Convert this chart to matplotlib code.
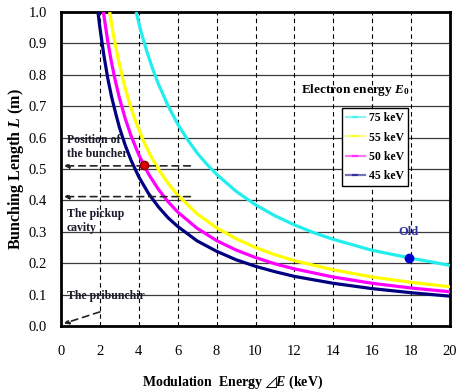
import matplotlib
matplotlib.use("Agg")
import matplotlib.pyplot as plt
from matplotlib.lines import Line2D

plt.rcParams['font.family'] = ['Liberation Serif', 'DejaVu Serif', 'DejaVu Sans']
plt.rcParams['mathtext.fontset'] = 'custom'
plt.rcParams['mathtext.rm'] = 'Liberation Serif:bold'
plt.rcParams['mathtext.it'] = 'Liberation Serif:italic:bold'
plt.rcParams['mathtext.bf'] = 'Liberation Serif:bold'
plt.rcParams['mathtext.fallback'] = 'stix'

# Data
x45 = [1.9, 2.0, 2.2, 2.4, 2.6, 2.8, 3.0, 3.3, 3.6, 4.0, 4.5, 5.0, 5.5, 6.0, 7.0, 8.0, 9.0, 10.0, 11.0, 12.0, 14.0, 16.0, 18.0, 20.0]
y45 = [1.0, 0.95, 0.864, 0.79, 0.73, 0.68, 0.633, 0.576, 0.528, 0.475, 0.422, 0.38, 0.345, 0.317, 0.271, 0.238, 0.211, 0.19, 0.173, 0.158, 0.136, 0.119, 0.106, 0.095]
x50 = [2.18, 2.4, 2.6, 2.8, 3.0, 3.3, 3.6, 4.0, 4.5, 5.0, 5.5, 6.0, 7.0, 8.0, 9.0, 10.0, 11.0, 12.0, 14.0, 16.0, 18.0, 20.0]
y50 = [1.0, 0.908, 0.838, 0.779, 0.727, 0.661, 0.606, 0.545, 0.484, 0.436, 0.396, 0.363, 0.311, 0.272, 0.242, 0.218, 0.198, 0.182, 0.156, 0.136, 0.121, 0.109]
x55 = [2.5, 2.7, 2.9, 3.2, 3.5, 3.8, 4.2, 4.6, 5.0, 5.5, 6.0, 7.0, 8.0, 9.0, 10.0, 11.0, 12.0, 14.0, 16.0, 18.0, 20.0]
y55 = [1.0, 0.926, 0.862, 0.781, 0.714, 0.658, 0.595, 0.543, 0.5, 0.455, 0.417, 0.357, 0.3125, 0.278, 0.25, 0.227, 0.208, 0.179, 0.156, 0.139, 0.125]
x75 = [3.86, 4.1, 4.4, 4.7, 5.0, 5.5, 6.0, 6.5, 7.0, 7.5, 8.0, 9.0, 10.0, 11.0, 12.0, 13.0, 14.0, 16.0, 18.0, 20.0]
y75 = [1.0, 0.941, 0.877, 0.821, 0.772, 0.702, 0.643, 0.594, 0.551, 0.515, 0.483, 0.429, 0.386, 0.351, 0.322, 0.297, 0.276, 0.241, 0.216, 0.193]

series_labels = ['75 keV', '55 keV', '50 keV', '45 keV']
series_colors = ['#22EEEE', '#FFFF00', '#FF00FF', '#000080']
buncher_pt = (4.28, 0.513)
old_pt = (17.9, 0.217)
buncher_L = 0.51
pickup_L = 0.412
xticks = [0, 2, 4, 6, 8, 10, 12, 14, 16, 18, 20]
yticks = [0.0, 0.1, 0.2, 0.3, 0.4, 0.5, 0.6, 0.7, 0.8, 0.9, 1.0]

fig = plt.figure(figsize=(4.57, 3.92), dpi=100)
ax = fig.add_axes([61/457, 66/392, 389/457, 314/392])

ax.set_xlim(0, 20)
ax.set_ylim(0, 1.0)
ax.set_xticks(xticks)
ax.set_yticks(yticks)
ax.set_yticklabels([f"{v:.1f}" for v in yticks])
ax.tick_params(axis='both', length=0, labelsize=10.5)
ax.tick_params(axis='y', pad=10)
ax.tick_params(axis='x', pad=14)

for v in yticks[1:-1]:
    ax.axhline(v, color='#3a3a3a', lw=0.9, zorder=1)
for v in xticks[1:-1]:
    ax.axvline(v, color='black', lw=0.8, ls=(0, (4, 3)), zorder=1)

for s in ax.spines.values():
    s.set_linewidth(2.0)

lw = 2.3
for xs, ys, c, z in [(x75, y75, series_colors[0], 3), (x55, y55, series_colors[1], 3),
                     (x50, y50, series_colors[2], 3), (x45, y45, series_colors[3], 4)]:
    ax.plot(xs, ys, color=c, lw=lw, zorder=z, solid_joinstyle='round', solid_capstyle='butt')

ax.plot([buncher_pt[0]], [buncher_pt[1]], 'o', ms=6, color='#DD0000', mec='#880000', zorder=6)
ax.plot([old_pt[0]], [old_pt[1]], 'o', ms=6, color='#0000CC', zorder=6)
ax.text(old_pt[0] - 0.05, 0.30, 'Old', color='#3030A0', fontsize=9, fontweight='bold',
        ha='center', va='center', zorder=6)

arrow_kw = dict(arrowstyle='-|>', ls=(0, (4, 3)), lw=1.2, color='#222222',
                mutation_scale=7, shrinkA=0, shrinkB=0)
ax.annotate('', xy=(0.15, buncher_L), xytext=(6.65, buncher_L), arrowprops=arrow_kw, zorder=5)
ax.annotate('', xy=(0.15, pickup_L), xytext=(6.65, pickup_L), arrowprops=arrow_kw, zorder=5)
ax.annotate('', xy=(0.15, 0.008), xytext=(2.0, 0.045), arrowprops=arrow_kw, zorder=5)

tk = dict(fontsize=8.5, fontweight='bold', color='#1a1a2a', ha='left', va='top', linespacing=1.2)
ax.text(0.3, 0.61, 'Position of\nthe buncher', **tk)
ax.text(0.3, 0.375, 'The pickup\ncavity', **tk)
ax.text(0.3, 0.115, 'The pribunchir', **tk)

handles = [Line2D([], [], color=c, lw=1.6, alpha=0.55, marker='_', ms=4, mew=1.6,
                  markevery=[1], label=l)
           for c, l in zip(series_colors, series_labels)]
for h in handles:
    h.set_xdata([0, 0.5, 1])
leg = ax.legend(handles=handles, loc='upper left', bbox_to_anchor=(0.722, 0.694),
                borderaxespad=0, fancybox=False, edgecolor='black', framealpha=1,
                prop={'family': 'Liberation Serif', 'weight': 'bold', 'size': 8.5},
                handlelength=1.6, handletextpad=0.35, labelspacing=0.62,
                borderpad=0.35)
leg.get_frame().set_linewidth(1.0)
leg.set_zorder(7)

ax.text(0.756, 0.752, r'Electron energy $E_0$', transform=ax.transAxes, fontsize=9.5,
        fontweight='bold', ha='center', va='center', zorder=7)

ax.set_xlabel('Modulation  Energy $\u22bf\\!E$ (keV)', fontsize=10, fontweight='bold')
ax.xaxis.set_label_coords(0.442, -0.152)
ax.set_ylabel(r'Bunching Length $L$ (m)', fontsize=11.5, fontweight='bold', labelpad=2)

fig.savefig('out.png', dpi=100, facecolor='white')
